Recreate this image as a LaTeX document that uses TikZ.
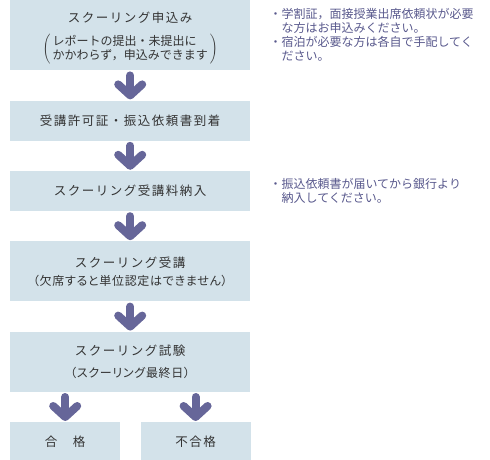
\documentclass[tikz,border=0pt]{standalone}
\usepackage{fontspec}
\setmainfont{Noto Sans CJK JP}
\newfontfamily\ttlfont[LetterSpace=12]{Noto Sans CJK JP}
\newfontfamily\paltfont[RawFeature=+palt,LetterSpace=6]{Noto Sans CJK JP}
\usetikzlibrary{positioning,arrows.meta}
\definecolor{boxfill}{RGB}{211,226,234}
\definecolor{arrowcol}{RGB}{102,102,153}
\definecolor{notecol}{RGB}{88,88,140}
\definecolor{textcol}{RGB}{51,51,51}
\newcommand\subfont{\rmfamily\fontsize{12}{14}\selectfont}

\begin{document}
\begin{tikzpicture}[x=1pt,y=1pt,node distance=30pt]
\tikzstyle{bx}=[fill=boxfill,text=textcol,minimum width=240pt,minimum height=40pt,inner sep=0pt,align=center,font={\ttlfont\fontsize{12.5}{18}\selectfont}]
\tikzstyle{nt}=[text=notecol,inner sep=0pt,align=left,font={\fontsize{12}{14.2}\selectfont}]
\tikzstyle{every edge}=[draw=arrowcol,line width=8pt,line cap=round,shorten <=5pt,shorten >=1pt,-{Straight Barb[round,length=11pt,width=24pt]}]
\useasboundingbox (0,0) rectangle (490,-460);
\node[bx,minimum height=70pt,anchor=north west] (apply) at (10,0)
  {\rule{0pt}{16pt}スクーリング申込み\\[10pt]{\subfont\delimitershortfall=9pt$\left(\,\begin{tabular}{@{}l@{}}レポートの提出・未提出に\\かかわらず，申込みできます\end{tabular}\,\right)$}};
\node[bx,below=of apply]  (permit) {受講許可証・振込依頼書到着};
\node[bx,below=of permit] (fee)    {スクーリング受講料納入};
\node[bx,minimum height=60pt,below=of fee] (attend)
  {スクーリング受講\\{\subfont\paltfont（欠席すると単位認定はできません）}};
\node[bx,minimum height=60pt,below=of attend] (exam)
  {スクーリング試験\\[4pt]{\subfont\paltfont（スクーリング最終日）}};
\node[bx,minimum width=110pt,below right=30pt and 0pt of exam.south west] (pass) {合　格};
\node[bx,minimum width=110pt,right=20pt of pass] (fail) {不合格};
% notes on the right
\node[nt,right=19pt of apply.north east,anchor=north west,yshift=-8pt] (note1)
  {・学割証，面接授業出席依頼状が必要\\\hspace*{1em}な方はお申込みください。\\・宿泊が必要な方は各自で手配してく\\\hspace*{1em}ださい。};
\node[nt,right=19pt of fee.north east,anchor=north west,yshift=-7pt] (note2)
  {・振込依頼書が届いてから銀行より\\\hspace*{1em}納入してください。};
\path
(apply)  edge (permit)
(permit) edge (fee)
(fee)    edge (attend)
(attend) edge (exam)
(pass.north |- exam.south) edge (pass.north)
(fail.north |- exam.south) edge (fail.north);
\end{tikzpicture}
\end{document}
